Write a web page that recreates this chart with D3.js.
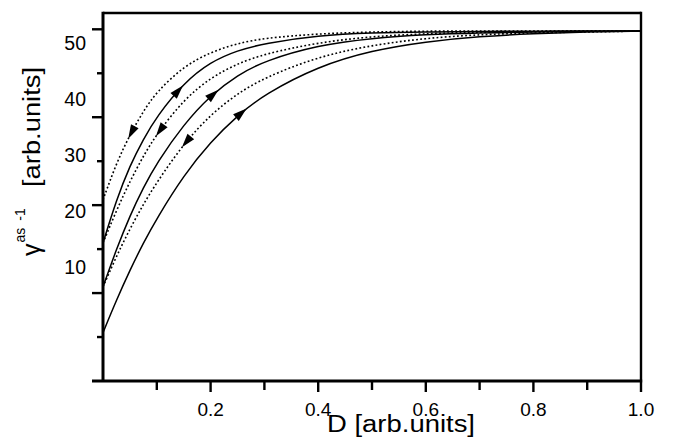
<!DOCTYPE html>
<html>
<head>
<meta charset="utf-8">
<script src="https://d3js.org/d3.v7.min.js"></script>
<style>
body { margin: 0; background: #fff; }
svg { font-family: "Liberation Sans", Arial, sans-serif; }
</style>
</head>
<body>
<script>
var dValues = [0, 0.025, 0.05, 0.075, 0.1, 0.15, 0.2, 0.25, 0.3, 0.4, 0.5, 0.6, 0.7, 0.8, 0.9, 1.0];

// solid curves (increasing D)
var solidTop    = [25.7, 30.6, 34.5, 37.5, 40.1, 43.9, 46.3, 47.6, 48.4, 49.3, 49.6, 49.7, 49.75, 49.8, 49.8, 49.8];
var solidMiddle = [20.7, 25.0, 28.8, 32.0, 34.8, 39.2, 42.5, 44.8, 46.4, 48.2, 49.0, 49.4, 49.6, 49.7, 49.8, 49.8];
var solidBottom = [15.5, 19.2, 22.6, 25.7, 28.5, 33.4, 37.2, 40.2, 42.6, 45.8, 47.6, 48.6, 49.2, 49.5, 49.7, 49.8];

// dotted curves (decreasing D)
var dotTop    = [30.6, 34.8, 38.0, 40.7, 42.9, 45.8, 47.4, 48.4, 49.0, 49.5, 49.7, 49.8, 49.8, 49.8, 49.8, 49.8];
var dotMiddle = [25.7, 29.4, 32.7, 35.6, 38.1, 42.0, 44.5, 46.1, 47.2, 48.5, 49.2, 49.5, 49.7, 49.7, 49.8, 49.8];
var dotBottom = [20.7, 24.2, 27.3, 30.1, 32.6, 37.0, 40.3, 42.7, 44.5, 46.9, 48.2, 49.0, 49.4, 49.6, 49.7, 49.8];

// where the arrowheads sit (D value)
var solidArrowAt = [0.14, 0.205, 0.257];
var dotArrowAt   = [0.053, 0.106, 0.155];

// axis ticks and labels
var xTicks = [0.1, 0.2, 0.3, 0.4, 0.5, 0.6, 0.7, 0.8, 0.9, 1.0];
var xTickLabels = ["0.2", "0.4", "0.6", "0.8", "1.0"];
var yTicks = [15, 20, 25, 30, 35, 40, 45, 50];
var yTickLabels = ["50", "40", "30", "20", "10"];

var width = 673, height = 437;
var margin = {top: 13, right: 32, bottom: 56, left: 103};
var plotRight = width - margin.right;
var plotBottom = height - margin.bottom;

var x = d3.scaleLinear().domain([0, 1]).range([margin.left, plotRight]);
var y = d3.scaleLinear().domain([10, 50]).range([plotBottom, margin.top + 16.3]);
// the printed numbers sit on their own spacing, not on the ticks
var yLabel = d3.scaleLinear().domain([10, 50]).range([267, 43]);

var svg = d3.select("body").append("svg")
  .attr("width", width)
  .attr("height", height);

// curves
var line = d3.line()
  .x(function(d) { return x(d[0]); })
  .y(function(d) { return y(d[1]); })
  .curve(d3.curveBasis);

function pairs(vals) { return dValues.map(function(d, i) { return [d, vals[i]]; }); }

var curves = [
  {vals: solidTop, dotted: false, arrow: solidArrowAt[0]},
  {vals: solidMiddle, dotted: false, arrow: solidArrowAt[1]},
  {vals: solidBottom, dotted: false, arrow: solidArrowAt[2]},
  {vals: dotTop, dotted: true, arrow: dotArrowAt[0]},
  {vals: dotMiddle, dotted: true, arrow: dotArrowAt[1]},
  {vals: dotBottom, dotted: true, arrow: dotArrowAt[2]}
];

var g = svg.append("g");
curves.forEach(function(c) {
  var p = g.append("path")
    .attr("d", line(pairs(c.vals)))
    .attr("fill", "none")
    .attr("stroke", "#000")
    .attr("stroke-width", c.dotted ? 1.6 : 1.5)
    .attr("stroke-dasharray", c.dotted ? "1.8,2.3" : null);

  // find the point on the path at the arrow's D
  var node = p.node(), total = node.getTotalLength();
  var tx = x(c.arrow), lo = 0, hi = total;
  for (var k = 0; k < 40; k++) {
    var mid = (lo + hi) / 2;
    if (node.getPointAtLength(mid).x < tx) lo = mid; else hi = mid;
  }
  var pt = node.getPointAtLength(lo);
  var a = node.getPointAtLength(Math.max(0, lo - 3));
  var b = node.getPointAtLength(Math.min(total, lo + 3));
  var ang = Math.atan2(b.y - a.y, b.x - a.x) * 180 / Math.PI;
  if (c.dotted) ang += 180;
  g.append("path")
    .attr("d", "M7,0L-7,-4.3L-7,4.3Z")
    .attr("fill", "#000")
    .attr("transform", "translate(" + pt.x + "," + pt.y + ") rotate(" + ang + ")");
});

// frame
var frame = svg.append("g").attr("stroke", "#000").attr("fill", "none");
frame.append("line").attr("x1", margin.left).attr("x2", plotRight)
  .attr("y1", margin.top).attr("y2", margin.top).attr("stroke-width", 2.6);
frame.append("line").attr("x1", plotRight).attr("x2", plotRight)
  .attr("y1", margin.top - 1.3).attr("y2", plotBottom).attr("stroke-width", 2.4);
frame.append("line").attr("x1", margin.left).attr("x2", margin.left)
  .attr("y1", margin.top - 1.3).attr("y2", plotBottom).attr("stroke-width", 3);
frame.append("line").attr("x1", margin.left - 11).attr("x2", plotRight + 1.2)
  .attr("y1", plotBottom).attr("y2", plotBottom).attr("stroke-width", 3);

// y ticks: long on the tens, short between
frame.selectAll(".yt").data(yTicks).enter().append("line")
  .attr("x1", function(d) { return margin.left - (d % 10 === 0 ? 11 : 6); })
  .attr("x2", margin.left)
  .attr("y1", function(d) { return y(d); })
  .attr("y2", function(d) { return y(d); })
  .attr("stroke-width", 2.4);

// x ticks
frame.selectAll(".xt").data(xTicks).enter().append("line")
  .attr("x1", function(d) { return x(d); })
  .attr("x2", function(d) { return x(d); })
  .attr("y1", plotBottom)
  .attr("y2", function(d, i) { return plotBottom + (i % 2 ? 11 : 9); })
  .attr("stroke-width", 2.4);

// tick labels
svg.selectAll(".xl").data(xTickLabels).enter().append("text")
  .attr("x", function(d) { return x(+d); })
  .attr("y", 416)
  .attr("text-anchor", "middle")
  .attr("font-size", 19)
  .text(function(d) { return d; });

svg.selectAll(".yl").data(yTickLabels).enter().append("text")
  .attr("x", 86)
  .attr("y", function(d) { return yLabel(+d); })
  .attr("dy", "0.36em")
  .attr("text-anchor", "end")
  .attr("font-size", 19.5)
  .text(function(d) { return d; });

// axis titles
svg.append("text")
  .attr("x", 401)
  .attr("y", 432)
  .attr("text-anchor", "middle")
  .attr("font-size", 23)
  .attr("textLength", 148)
  .attr("lengthAdjust", "spacingAndGlyphs")
  .text("D [arb.units]");

svg.append("text")
  .attr("transform", "translate(40,127) rotate(-90)")
  .attr("text-anchor", "middle")
  .attr("font-size", 23)
  .attr("textLength", 120)
  .attr("lengthAdjust", "spacingAndGlyphs")
  .text("[arb.units]");

var gam = svg.append("text")
  .attr("transform", "translate(40,256) rotate(-90)")
  .attr("font-size", 25);
gam.append("tspan").text("\u03b3");
gam.append("tspan").attr("dy", -15).attr("dx", 1).attr("font-size", 14).text("as");
gam.append("tspan").attr("dx", 7).attr("font-size", 14).text("-1");
</script>
</body>
</html>
